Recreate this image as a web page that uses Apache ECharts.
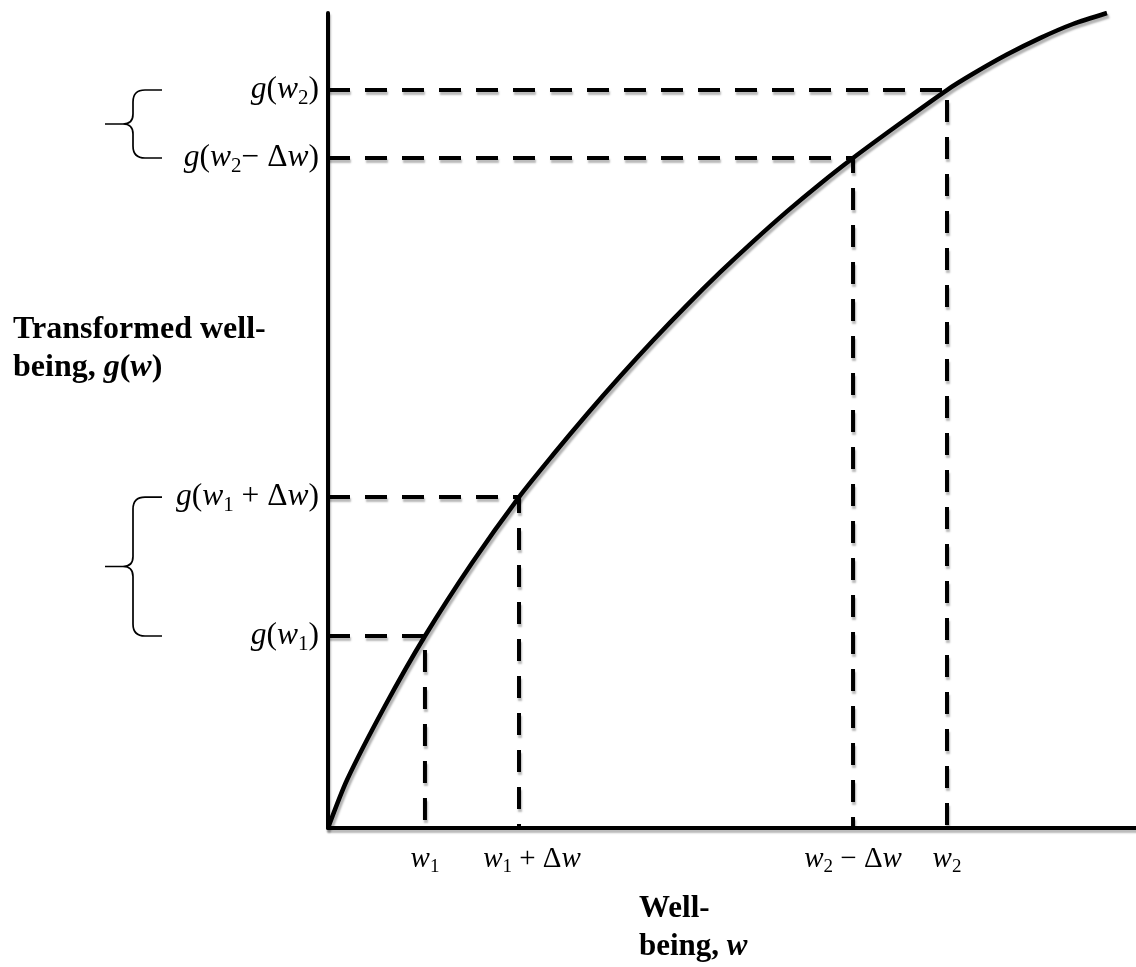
<!DOCTYPE html>
<html>
<head>
<meta charset="utf-8">
<script src="https://cdn.jsdelivr.net/npm/echarts@6/dist/echarts.min.js"></script>
<style>html,body{margin:0;padding:0;background:#fff}#c{width:1136px;height:967px}</style>
</head>
<body>
<div id="c"></div>
<script>
// Curve g(w): points
const curveW = [0, 2.35, 7.05, 12.00, 17.82, 23.64, 27.85, 32.05, 36.14, 40.22, 44.43, 48.51, 52.60, 56.81, 60.89, 64.98, 70.79, 76.61, 79.83, 84.03, 88.12, 92.20, 96.41];
const curveG = [0, 5.89, 14.97, 23.56, 32.52, 40.61, 45.80, 50.77, 55.40, 59.82, 64.16, 68.16, 71.95, 75.66, 79.03, 82.21, 86.44, 90.55, 92.54, 94.90, 96.92, 98.65, 100];
// Guide points
const guideW = [12.00, 23.64, 64.98, 76.61];
const guideG = [23.56, 40.61, 82.21, 90.55];
// Tick labels (rich text)
const xLabels = ['{i|w}{s|1}', '{p|}{i|w}{s|1}{n| + Δ}{i|w}', '{i|w}{s|2}{n| − Δ}{i|w}', '{i|w}{s|2}'];
const yLabels = ['{i|g}{n|(}{i|w}{s|1}{n|)}', '{i|g}{n|(}{i|w}{s|1}{n| + Δ}{i|w}{n|)}', '{i|g}{n|(}{i|w}{s|2}{n|− Δ}{i|w}{n|)}', '{i|g}{n|(}{i|w}{s|2}{n|)}'];
// Braces spanning pairs of g values
const braces = [[guideG[0], guideG[1]], [guideG[2], guideG[3]]];

const FF = 'Liberation Serif, Times New Roman, serif';
function makeRich(main, sub, pad) {
  return {
    i: {fontFamily: FF, fontStyle: 'italic', fontSize: main, color: '#000', lineHeight: main + 5, verticalAlign: 'middle'},
    n: {fontFamily: FF, fontSize: main, color: '#000', lineHeight: main + 5, verticalAlign: 'middle'},
    s: {fontFamily: FF, fontSize: sub, color: '#000', lineHeight: sub, padding: [pad, 0, 0, 0], verticalAlign: 'middle'},
    p: {width: 26, lineHeight: main + 5}
  };
}
const shadowDash = {shadowColor: 'rgba(0,0,0,0.28)', shadowBlur: 2, shadowOffsetX: 1, shadowOffsetY: 3};

const chart = echarts.init(document.getElementById('c'));
const guideSeries = guideW.map((w, k) => ({
  type: 'line', symbol: 'none', silent: true, z: 2,
  data: [[0, guideG[k]], [w, guideG[k]], [w, 0]],
  lineStyle: Object.assign({color: '#000', width: 4, type: [22, 15]}, shadowDash)
}));

chart.setOption({
  animation: false,
  grid: {left: 328, right: 0, top: 13, bottom: 139},
  title: [
    {text: 'Transformed well-\n{n|being, }{i|g}{n|(}{i|w}{n|)}', left: 8, top: 306,
     textStyle: {fontFamily: FF, fontSize: 32, fontWeight: 'bold', color: '#000', lineHeight: 38,
       rich: {n: {fontFamily: FF, fontSize: 32, fontWeight: 'bold', color: '#000', lineHeight: 38},
              i: {fontFamily: FF, fontSize: 32, fontWeight: 'bold', fontStyle: 'italic', color: '#000', lineHeight: 38}}}},
    {text: 'Well-\nbeing, {i|w}', left: 634, top: 885,
     textStyle: {fontFamily: FF, fontSize: 31, fontWeight: 'bold', color: '#000', lineHeight: 38,
       rich: {i: {fontFamily: FF, fontSize: 31, fontWeight: 'bold', fontStyle: 'italic', color: '#000', lineHeight: 38}}}}
  ],
  xAxis: {
    type: 'value', min: 0, max: 100,
    axisLine: {show: true, onZero: false, lineStyle: Object.assign({color: '#000', width: 4}, shadowDash)},
    axisTick: {show: false}, splitLine: {show: false},
    axisLabel: {customValues: guideW, margin: 14, rich: makeRich(29, 19, 16),
      formatter: v => { const k = guideW.indexOf(v); return k >= 0 ? xLabels[k] : ''; }}
  },
  yAxis: {
    type: 'value', min: 0, max: 100,
    axisLine: {show: true, onZero: false, lineStyle: Object.assign({color: '#000', width: 4}, shadowDash)},
    axisTick: {show: false}, splitLine: {show: false},
    axisLabel: {customValues: guideG, margin: 9, rich: makeRich(31.5, 21, 17),
      formatter: v => { const k = guideG.indexOf(v); return k >= 0 ? yLabels[k] : ''; }}
  },
  series: guideSeries.concat([
    {
      type: 'line', symbol: 'none', smooth: 0.25, silent: true, z: 3,
      data: curveW.map((w, k) => [w, curveG[k]]),
      lineStyle: {color: '#000', width: 4.5, shadowColor: 'rgba(0,0,0,0.3)', shadowBlur: 2, shadowOffsetX: 2, shadowOffsetY: 3}
    },
    {
      type: 'custom', coordinateSystem: 'cartesian2d', clip: false, silent: true,
      data: braces,
      renderItem: function (params, api) {
        const lo = api.value(0), hi = api.value(1);
        const T = api.coord([0, hi])[1], B = api.coord([0, lo])[1];
        const x0 = api.coord([0, 0])[0];
        const xr = x0 - 166, xv = x0 - 195, xt = x0 - 223;
        const M = (T + B) / 2;
        const d = 'M' + xr + ' ' + T + ' L' + (xv + 12) + ' ' + T + ' Q' + xv + ' ' + T + ' ' + xv + ' ' + (T + 12) +
          ' L' + xv + ' ' + (M - 10) + ' Q' + xv + ' ' + M + ' ' + (xv - 10) + ' ' + M + ' L' + xt + ' ' + M +
          ' M' + (xv - 10) + ' ' + M + ' Q' + xv + ' ' + M + ' ' + xv + ' ' + (M + 10) +
          ' L' + xv + ' ' + (B - 12) + ' Q' + xv + ' ' + B + ' ' + (xv + 12) + ' ' + B + ' L' + xr + ' ' + B;
        return {type: 'path', shape: {pathData: d}, style: {stroke: '#000', fill: null, lineWidth: 1.7}};
      }
    }
  ])
});
</script>
</body>
</html>
